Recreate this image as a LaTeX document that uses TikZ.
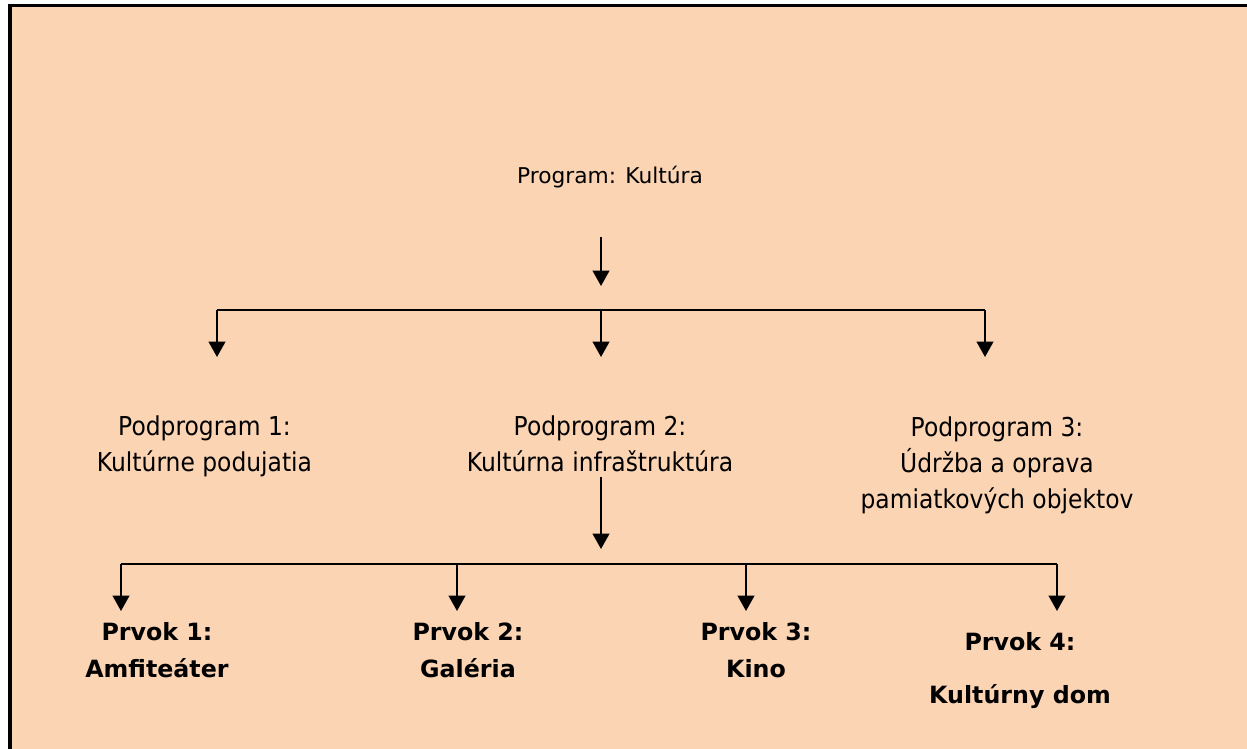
\documentclass[tikz,border=0pt]{standalone}
\usepackage{fontspec}
\setmainfont{DejaVu Sans}
\newfontfamily\ppfont[FakeStretch=0.9]{DejaVu Sans}
\newfontfamily\progfont{DejaVu Sans}
\newfontfamily\boldfont{DejaVu Sans Bold}
\usetikzlibrary{arrows.meta}
\definecolor{peach}{HTML}{FBD4B4}
\tikzset{
  lbl/.style={inner sep=0pt, outer sep=0pt, align=center, anchor=base},
  progtxt/.style={lbl, font=\progfont\fontsize{16.3}{20}\selectfont},
  pptxt/.style={lbl, font=\ppfont\fontsize{19.5}{27}\selectfont},
  prtxt/.style={lbl, font=\boldfont\fontsize{17.8}{27.75}\selectfont},
  prtxtwide/.style={lbl, font=\boldfont\fontsize{17.8}{39.75}\selectfont},
  conn/.style={line width=1.5pt, black},
  arr/.style={conn, -{Triangle[width=12.5pt,length=11.5pt]}},
}
\begin{document}
\begin{tikzpicture}[x=0.75pt,y=-0.75pt]
\useasboundingbox (0,0) rectangle (1247,749);
\fill[white] (0,0) rectangle (1247,749);
\fill[peach] (12,7) rectangle (1247,749);
\fill[black] (8,4) rectangle (12,749);
\fill[black] (8,4) rectangle (1247,7);

% texts (anchor = baseline of the last line)
\node[progtxt] (prog) at (610,183) {Program: Kultúra};
\node[pptxt] (pp1) at (204.5,471) {Podprogram 1:\\Kultúrne podujatia};
\node[pptxt] (pp2) at (600,471) {Podprogram 2:\\Kultúrna infraštruktúra};
\node[pptxt] (pp3) at (997,508) {Podprogram 3:\\Údržba a oprava\\pamiatkových objektov};
\node[prtxt] (pr1) at (157,677) {Prvok 1:\\Amfiteáter};
\node[prtxt] (pr2) at (468,677) {Prvok 2:\\Galéria};
\node[prtxt] (pr3) at (756,677) {Prvok 3:\\Kino};
\node[prtxtwide] (pr4) at (1020,703) {Prvok 4:\\Kultúrny dom};

% coordinates
\coordinate (a0) at (601,237);
\coordinate (a0e) at (601,286);
\coordinate (t1) at (217,310);
\coordinate (t2) at (601,310);
\coordinate (t3) at (985,310);
\coordinate (t1e) at (217,357);
\coordinate (t2e) at (601,357);
\coordinate (t3e) at (985,357);
\coordinate (b0) at (601,477);
\coordinate (b0e) at (601,549);
\coordinate (b1) at (121,564);
\coordinate (b2) at (457,564);
\coordinate (b3) at (746,564);
\coordinate (b4) at (1057,564);
\coordinate (b1e) at (121,611);
\coordinate (b2e) at (457,611);
\coordinate (b3e) at (746,611);
\coordinate (b4e) at (1057,611);

% connectors
\draw[arr] (a0) -- (a0e);
\draw[conn] (t1) -- (t3);
\draw[arr] (t1) -- (t1e);
\draw[arr] (t2) -- (t2e);
\draw[arr] (t3) -- (t3e);
\draw[arr] (b0) -- (b0e);
\draw[conn] (b1) -- (b4);
\draw[arr] (b1) -- (b1e);
\draw[arr] (b2) -- (b2e);
\draw[arr] (b3) -- (b3e);
\draw[arr] (b4) -- (b4e);
\end{tikzpicture}
\end{document}
